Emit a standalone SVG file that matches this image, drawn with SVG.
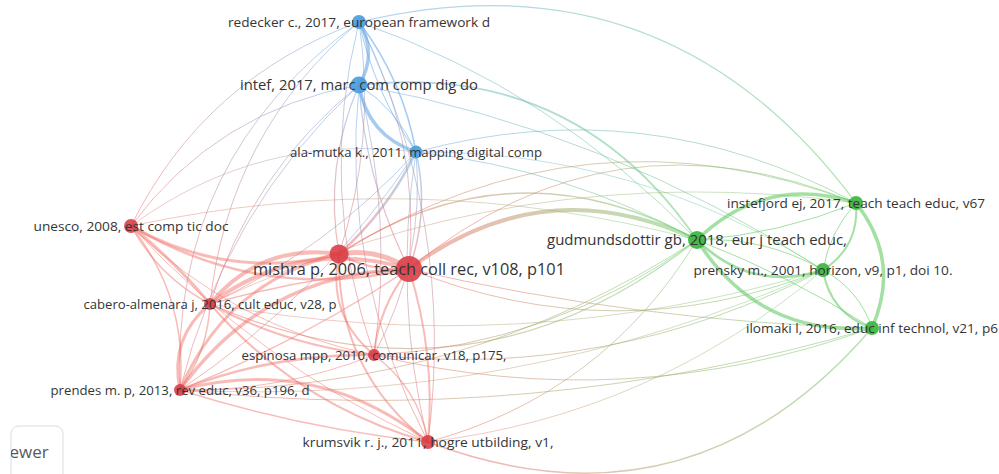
<svg xmlns="http://www.w3.org/2000/svg" width="999" height="474" viewBox="0 0 999 474">
  <style>
    .e { fill: none; stroke-linecap: round; }
    .bb { stroke: #6aa9e6; stroke-opacity: 0.6; }
    .rr { stroke: #ef6a62; stroke-opacity: 0.45; }
    .gg { stroke: #66cc66; stroke-opacity: 0.6; }
    .x  { stroke-opacity: 0.5; }
    .nb { fill: #4a9de0; fill-opacity: 0.92; }
    .nr { fill: #da3a42; fill-opacity: 0.88; }
    .ng { fill: #3cb540; fill-opacity: 0.92; }
    .lbl { font-family: "Open Sans", "DejaVu Sans", sans-serif; font-size: 13.5px; fill: #353535; text-anchor: middle; }
    .big { font-size: 14.7px; }
    .huge { font-size: 16.3px; }
    .btn { fill: #ffffff; stroke: #dcdcdc; stroke-width: 1; }
    .btntxt { font-family: "Open Sans", "DejaVu Sans", sans-serif; font-size: 17px; fill: #5a5a5a; }
  </style>
  <defs>
    <!-- base colour ramps for links between clusters -->
    <linearGradient id="rgBase"><stop offset="0" stop-color="#ef6a62"/><stop offset="1" stop-color="#66cc66"/></linearGradient>
    <linearGradient id="bgBase"><stop offset="0" stop-color="#6aa9e6"/><stop offset="1" stop-color="#66cc66"/></linearGradient>
    <linearGradient id="brBase"><stop offset="0" stop-color="#6aa9e6"/><stop offset="1" stop-color="#ef6a62"/></linearGradient>

    <!-- blue -> green -->
    <linearGradient id="e4" href="#bgBase" gradientUnits="userSpaceOnUse" x1="359" y1="22" x2="856" y2="203"/>
    <linearGradient id="e5" href="#bgBase" gradientUnits="userSpaceOnUse" x1="359" y1="85" x2="697" y2="240"/>
    <linearGradient id="e6" href="#bgBase" gradientUnits="userSpaceOnUse" x1="416" y1="152" x2="856" y2="203"/>
    <linearGradient id="e7" href="#bgBase" gradientUnits="userSpaceOnUse" x1="416" y1="152" x2="697" y2="240"/>
    <linearGradient id="e8" href="#bgBase" gradientUnits="userSpaceOnUse" x1="359" y1="22" x2="697" y2="240"/>
    <linearGradient id="e9" href="#bgBase" gradientUnits="userSpaceOnUse" x1="359" y1="85" x2="823" y2="270"/>
    <linearGradient id="e10" href="#bgBase" gradientUnits="userSpaceOnUse" x1="416" y1="152" x2="823" y2="270"/>

    <!-- blue -> red -->
    <linearGradient id="e12" href="#brBase" gradientUnits="userSpaceOnUse" x1="359" y1="22" x2="131" y2="226"/>
    <linearGradient id="e13" href="#brBase" gradientUnits="userSpaceOnUse" x1="359" y1="85" x2="131" y2="226"/>
    <linearGradient id="e14" href="#brBase" gradientUnits="userSpaceOnUse" x1="359" y1="22" x2="180" y2="390"/>
    <linearGradient id="e15" href="#brBase" gradientUnits="userSpaceOnUse" x1="359" y1="22" x2="210" y2="304"/>
    <linearGradient id="e16" href="#brBase" gradientUnits="userSpaceOnUse" x1="359" y1="85" x2="210" y2="304"/>
    <linearGradient id="e17" href="#brBase" gradientUnits="userSpaceOnUse" x1="359" y1="85" x2="180" y2="390"/>
    <linearGradient id="e18" href="#brBase" gradientUnits="userSpaceOnUse" x1="416" y1="152" x2="210" y2="304"/>
    <linearGradient id="e19" href="#brBase" gradientUnits="userSpaceOnUse" x1="416" y1="152" x2="180" y2="390"/>
    <linearGradient id="e20" href="#brBase" gradientUnits="userSpaceOnUse" x1="416" y1="152" x2="131" y2="226"/>
    <linearGradient id="e21" href="#brBase" gradientUnits="userSpaceOnUse" x1="416" y1="152" x2="339" y2="254"/>
    <linearGradient id="e22" href="#brBase" gradientUnits="userSpaceOnUse" x1="416" y1="152" x2="409" y2="269"/>
    <linearGradient id="e23" href="#brBase" gradientUnits="userSpaceOnUse" x1="359" y1="85" x2="339" y2="254"/>
    <linearGradient id="e24" href="#brBase" gradientUnits="userSpaceOnUse" x1="359" y1="85" x2="409" y2="269"/>
    <linearGradient id="e25" href="#brBase" gradientUnits="userSpaceOnUse" x1="359" y1="22" x2="339" y2="254"/>
    <linearGradient id="e26" href="#brBase" gradientUnits="userSpaceOnUse" x1="359" y1="22" x2="409" y2="269"/>
    <linearGradient id="e27" href="#brBase" gradientUnits="userSpaceOnUse" x1="359" y1="22" x2="374" y2="355"/>
    <linearGradient id="e28" href="#brBase" gradientUnits="userSpaceOnUse" x1="359" y1="85" x2="374" y2="355"/>
    <linearGradient id="e29" href="#brBase" gradientUnits="userSpaceOnUse" x1="416" y1="152" x2="374" y2="355"/>
    <linearGradient id="e30" href="#brBase" gradientUnits="userSpaceOnUse" x1="359" y1="22" x2="428" y2="442"/>
    <linearGradient id="e31" href="#brBase" gradientUnits="userSpaceOnUse" x1="359" y1="85" x2="428" y2="442"/>
    <linearGradient id="e32" href="#brBase" gradientUnits="userSpaceOnUse" x1="416" y1="152" x2="428" y2="442"/>

    <!-- red -> green -->
    <linearGradient id="e56" href="#rgBase" gradientUnits="userSpaceOnUse" x1="409" y1="269" x2="697" y2="240"/>
    <linearGradient id="e57" href="#rgBase" gradientUnits="userSpaceOnUse" x1="339" y1="254" x2="697" y2="240"/>
    <linearGradient id="e58" href="#rgBase" gradientUnits="userSpaceOnUse" x1="409" y1="269" x2="856" y2="203"/>
    <linearGradient id="e59" href="#rgBase" gradientUnits="userSpaceOnUse" x1="339" y1="254" x2="856" y2="203"/>
    <linearGradient id="e60" href="#rgBase" gradientUnits="userSpaceOnUse" x1="210" y1="304" x2="697" y2="240"/>
    <linearGradient id="e61" href="#rgBase" gradientUnits="userSpaceOnUse" x1="409" y1="269" x2="823" y2="270"/>
    <linearGradient id="e62" href="#rgBase" gradientUnits="userSpaceOnUse" x1="428" y1="442" x2="872" y2="328"/>
    <linearGradient id="e63" href="#rgBase" gradientUnits="userSpaceOnUse" x1="180" y1="390" x2="872" y2="328"/>
    <linearGradient id="e64" href="#rgBase" gradientUnits="userSpaceOnUse" x1="428" y1="442" x2="697" y2="240"/>
    <linearGradient id="e65" href="#rgBase" gradientUnits="userSpaceOnUse" x1="374" y1="355" x2="697" y2="240"/>
    <linearGradient id="e66" href="#rgBase" gradientUnits="userSpaceOnUse" x1="374" y1="355" x2="823" y2="270"/>
    <linearGradient id="e67" href="#rgBase" gradientUnits="userSpaceOnUse" x1="374" y1="355" x2="872" y2="328"/>
    <linearGradient id="e68" href="#rgBase" gradientUnits="userSpaceOnUse" x1="180" y1="390" x2="697" y2="240"/>
    <linearGradient id="e69" href="#rgBase" gradientUnits="userSpaceOnUse" x1="180" y1="390" x2="823" y2="270"/>
    <linearGradient id="e70" href="#rgBase" gradientUnits="userSpaceOnUse" x1="210" y1="304" x2="823" y2="270"/>
    <linearGradient id="e71" href="#rgBase" gradientUnits="userSpaceOnUse" x1="409" y1="269" x2="872" y2="328"/>
    <linearGradient id="e72" href="#rgBase" gradientUnits="userSpaceOnUse" x1="131" y1="226" x2="697" y2="240"/>
    <linearGradient id="e73" href="#rgBase" gradientUnits="userSpaceOnUse" x1="210" y1="304" x2="856" y2="203"/>
    <linearGradient id="e74" href="#rgBase" gradientUnits="userSpaceOnUse" x1="428" y1="442" x2="823" y2="270"/>

    <clipPath id="btnClip"><rect x="11" y="426" width="52" height="60" rx="8"/></clipPath>
  </defs>

  <rect width="999" height="474" fill="#ffffff"/>

  <g id="connectors">
    <!-- within the blue cluster -->
    <g class="bb">
      <path class="e" d="M359 22 Q378 53.5 359 85" stroke-width="3.5"/>
      <path class="e" d="M359 85 Q367.4 135.6 416 152" stroke-width="3.5"/>
      <path class="e" d="M359 22 Q403 80 416 152" stroke-width="1.5"/>
      <path class="e" d="M359 22 Q374.5 92.7 416 152" stroke-width="1"/>
      <path class="e" d="M359 85 Q397.5 110 416 152" stroke-width="1"/>
    </g>
    <!-- blue to green -->
    <g class="x">
      <path class="e" d="M359 22 Q667 -51.5 856 203" stroke="url(#e4)" stroke-width="1.2"/>
      <path class="e" d="M359 85 Q574.5 61.1 697 240" stroke="url(#e5)" stroke-width="1.8"/>
      <path class="e" d="M416 152 Q646 89.5 856 203" stroke="url(#e6)" stroke-width="1"/>
      <path class="e" d="M416 152 Q565 168 697 240" stroke="url(#e7)" stroke-width="1"/>
      <path class="e" d="M359 22 Q554 90.4 697 240" stroke="url(#e8)" stroke-width="1"/>
      <path class="e" d="M359 85 Q609.5 131 823 270" stroke="url(#e9)" stroke-width="1"/>
      <path class="e" d="M416 152 Q637 150 823 270" stroke="url(#e10)" stroke-width="0.8"/>
    </g>
    <!-- blue to red -->
    <g class="x">
      <path class="e" d="M359 22 Q204 78.4 131 226" stroke="url(#e12)" stroke-width="1"/>
      <path class="e" d="M359 85 Q216.8 110 131 226" stroke="url(#e13)" stroke-width="1"/>
      <path class="e" d="M359 22 Q170 157.7 180 390" stroke="url(#e14)" stroke-width="1"/>
      <path class="e" d="M359 22 Q228 133 210 304" stroke="url(#e15)" stroke-width="1"/>
      <path class="e" d="M359 85 Q251.6 172 210 304" stroke="url(#e16)" stroke-width="1"/>
      <path class="e" d="M359 85 Q223.7 210.6 180 390" stroke="url(#e17)" stroke-width="1"/>
      <path class="e" d="M416 152 Q328 248.6 210 304" stroke="url(#e18)" stroke-width="1"/>
      <path class="e" d="M416 152 Q322 294.6 180 390" stroke="url(#e19)" stroke-width="1"/>
      <path class="e" d="M416 152 Q258.7 132 131 226" stroke="url(#e20)" stroke-width="0.8"/>
      <path class="e" d="M416 152 Q387.7 210.7 339 254" stroke="url(#e21)" stroke-width="2.5"/>
      <path class="e" d="M416 152 Q430 211.5 409 269" stroke="url(#e22)" stroke-width="1.5"/>
      <path class="e" d="M359 85 Q323.6 166.5 339 254" stroke="url(#e23)" stroke-width="1.2"/>
      <path class="e" d="M359 85 Q365.6 182 409 269" stroke="url(#e24)" stroke-width="1.2"/>
      <path class="e" d="M359 22 Q376.8 140.4 339 254" stroke="url(#e25)" stroke-width="1"/>
      <path class="e" d="M359 22 Q421 138 409 269" stroke="url(#e26)" stroke-width="1"/>
      <path class="e" d="M359 22 Q316.5 190.75 374 355" stroke="url(#e27)" stroke-width="1"/>
      <path class="e" d="M359 85 Q393.5 218.5 374 355" stroke="url(#e28)" stroke-width="1"/>
      <path class="e" d="M416 152 Q425.5 259.8 374 355" stroke="url(#e29)" stroke-width="1"/>
      <path class="e" d="M359 22 Q456.5 221.6 428 442" stroke="url(#e30)" stroke-width="1"/>
      <path class="e" d="M359 85 Q340 274 428 442" stroke="url(#e31)" stroke-width="1"/>
      <path class="e" d="M416 152 Q393 298.2 428 442" stroke="url(#e32)" stroke-width="1"/>
    </g>
    <!-- within the red cluster -->
    <g class="rr">
      <path class="e" d="M339 254 Q377 247.5 409 269" stroke-width="5"/>
      <path class="e" d="M339 254 Q371.75 272 409 269" stroke-width="2"/>
      <path class="e" d="M131 226 Q229.4 281.6 339 254" stroke-width="3"/>
      <path class="e" d="M131 226 Q261.4 303.1 409 269" stroke-width="2.5"/>
      <path class="e" d="M131 226 Q174.4 261 210 304" stroke-width="3"/>
      <path class="e" d="M131 226 Q158.8 276.9 210 304" stroke-width="1.5"/>
      <path class="e" d="M131 226 Q188.3 298.2 180 390" stroke-width="1.5"/>
      <path class="e" d="M131 226 Q233 327 374 355" stroke-width="1"/>
      <path class="e" d="M131 226 Q258 363.7 428 442" stroke-width="1"/>
      <path class="e" d="M210 304 Q260.5 242.9 339 254" stroke-width="4"/>
      <path class="e" d="M210 304 Q300.75 236.75 409 269" stroke-width="4"/>
      <path class="e" d="M210 304 Q307.75 276.5 409 269" stroke-width="1.5"/>
      <path class="e" d="M180 390 Q225.5 282.25 339 254" stroke-width="3"/>
      <path class="e" d="M180 390 Q264.25 272.25 409 269" stroke-width="3.5"/>
      <path class="e" d="M180 390 Q300.5 341 409 269" stroke-width="1.5"/>
      <path class="e" d="M210 304 Q169 338 180 390" stroke-width="3"/>
      <path class="e" d="M210 304 Q207.9 351.5 180 390" stroke-width="1.5"/>
      <path class="e" d="M180 390 Q273.5 353.1 374 355" stroke-width="2.5"/>
      <path class="e" d="M180 390 Q280.5 391.9 374 355" stroke-width="1"/>
      <path class="e" d="M180 390 Q317 354 428 442" stroke-width="3"/>
      <path class="e" d="M180 390 Q301.4 428.4 428 442" stroke-width="1.5"/>
      <path class="e" d="M210 304 Q298.3 405.7 428 442" stroke-width="2"/>
      <path class="e" d="M210 304 Q286.9 345.9 374 355" stroke-width="2"/>
      <path class="e" d="M339 254 Q326.2 315 374 355" stroke-width="2"/>
      <path class="e" d="M409 269 Q378.6 306.75 374 355" stroke-width="2"/>
      <path class="e" d="M339 254 Q336.5 370.25 428 442" stroke-width="2"/>
      <path class="e" d="M409 269 Q435.8 353.6 428 442" stroke-width="2"/>
      <path class="e" d="M374 355 Q418.4 387.7 428 442" stroke-width="1.5"/>
    </g>
    <!-- red to green -->
    <g class="x">
      <path class="e" d="M409 269 Q544.3 168.1 697 240" stroke="url(#e56)" stroke-width="4"/>
      <path class="e" d="M339 254 Q513.8 139.6 697 240" stroke="url(#e57)" stroke-width="1.5"/>
      <path class="e" d="M409 269 Q612.5 102 856 203" stroke="url(#e58)" stroke-width="1"/>
      <path class="e" d="M339 254 Q584.75 99.5 856 203" stroke="url(#e59)" stroke-width="1"/>
      <path class="e" d="M210 304 Q472.7 418.1 697 240" stroke="url(#e60)" stroke-width="1.2"/>
      <path class="e" d="M409 269 Q615.8 352.3 823 270" stroke="url(#e61)" stroke-width="1"/>
      <path class="e" d="M428 442 Q689.9 540.4 872 328" stroke="url(#e62)" stroke-width="1.5"/>
      <path class="e" d="M180 390 Q532 428 872 328" stroke="url(#e63)" stroke-width="1"/>
      <path class="e" d="M428 442 Q602.9 394.8 697 240" stroke="url(#e64)" stroke-width="1"/>
      <path class="e" d="M374 355 Q552.75 345.95 697 240" stroke="url(#e65)" stroke-width="1"/>
      <path class="e" d="M374 355 Q611.25 379.85 823 270" stroke="url(#e66)" stroke-width="1"/>
      <path class="e" d="M374 355 Q627 416.2 872 328" stroke="url(#e67)" stroke-width="1"/>
      <path class="e" d="M180 390 Q461 392.55 697 240" stroke="url(#e68)" stroke-width="1"/>
      <path class="e" d="M180 390 Q515.9 407.2 823 270" stroke="url(#e69)" stroke-width="0.8"/>
      <path class="e" d="M210 304 Q520.6 360.6 823 270" stroke="url(#e70)" stroke-width="0.8"/>
      <path class="e" d="M409 269 Q637.5 321.65 872 328" stroke="url(#e71)" stroke-width="1"/>
      <path class="e" d="M131 226 Q415.7 165 697 240" stroke="url(#e72)" stroke-width="0.8"/>
      <path class="e" d="M210 304 Q517.85 156.6 856 203" stroke="url(#e73)" stroke-width="0.8"/>
      <path class="e" d="M428 442 Q651.3 415.25 823 270" stroke="url(#e74)" stroke-width="0.8"/>
    </g>
    <!-- within the green cluster -->
    <g class="gg">
      <path class="e" d="M697 240 Q765.4 173.8 856 203" stroke-width="3.5"/>
      <path class="e" d="M697 240 Q779.5 234.2 856 203" stroke-width="1"/>
      <path class="e" d="M697 240 Q758.1 336.5 872 328" stroke-width="3.5"/>
      <path class="e" d="M697 240 Q788.9 275.25 872 328" stroke-width="1"/>
      <path class="e" d="M856 203 Q901.5 260.7 872 328" stroke-width="3.5"/>
      <path class="e" d="M697 240 Q751 292.8 823 270" stroke-width="2.5"/>
      <path class="e" d="M697 240 Q764.5 236.1 823 270" stroke-width="1"/>
      <path class="e" d="M823 270 Q859.5 246.5 856 203" stroke-width="2"/>
      <path class="e" d="M823 270 Q829.5 231.5 856 203" stroke-width="1"/>
      <path class="e" d="M823 270 Q830.1 313.7 872 328" stroke-width="2"/>
      <path class="e" d="M823 270 Q859 289.2 872 328" stroke-width="1"/>
    </g>
  </g>

  <g id="nodes">
    <g id="node-redecker">
      <circle class="nb" cx="359" cy="22" r="7"/>
      <text class="lbl" x="359" y="22" dy="0.35em" textLength="262" lengthAdjust="spacingAndGlyphs">redecker c., 2017, european framework d</text>
    </g>
    <g id="node-intef">
      <circle class="nb" cx="359" cy="85" r="8.5"/>
      <text class="lbl big" x="359" y="85" dy="0.35em" textLength="238" lengthAdjust="spacingAndGlyphs">intef, 2017, marc com comp dig do</text>
    </g>
    <g id="node-ala-mutka">
      <circle class="nb" cx="416" cy="152" r="6.5"/>
      <text class="lbl" x="416" y="152" dy="0.35em" textLength="252" lengthAdjust="spacingAndGlyphs">ala-mutka k., 2011, mapping digital comp</text>
    </g>
    <g id="node-unesco">
      <circle class="nr" cx="131" cy="226" r="7"/>
      <text class="lbl" x="131" y="226" dy="0.35em" textLength="195" lengthAdjust="spacingAndGlyphs">unesco, 2008, est comp tic doc</text>
    </g>
    <g id="node-mishra-b">
      <circle class="nr" cx="339" cy="254" r="9.5"/>
    </g>
    <g id="node-cabero">
      <circle class="nr" cx="210" cy="304" r="6"/>
      <text class="lbl" x="210" y="304" dy="0.35em" textLength="253" lengthAdjust="spacingAndGlyphs">cabero-almenara j, 2016, cult educ, v28, p</text>
    </g>
    <g id="node-espinosa">
      <circle class="nr" cx="374" cy="355" r="6"/>
      <text class="lbl" x="374" y="355" dy="0.35em" textLength="265" lengthAdjust="spacingAndGlyphs">espinosa mpp, 2010, comunicar, v18, p175,</text>
    </g>
    <g id="node-prendes">
      <circle class="nr" cx="180" cy="390" r="6"/>
      <text class="lbl" x="180" y="390" dy="0.35em" textLength="259" lengthAdjust="spacingAndGlyphs">prendes m. p, 2013, rev educ, v36, p196, d</text>
    </g>
    <g id="node-krumsvik">
      <circle class="nr" cx="428" cy="442" r="7"/>
      <text class="lbl" x="428" y="442" dy="0.35em" textLength="251" lengthAdjust="spacingAndGlyphs">krumsvik r. j., 2011, hogre utbilding, v1,</text>
    </g>
    <g id="node-mishra">
      <circle class="nr" cx="409" cy="269" r="13"/>
      <text class="lbl huge" x="409" y="269" dy="0.35em" textLength="312" lengthAdjust="spacingAndGlyphs">mishra p, 2006, teach coll rec, v108, p101</text>
    </g>
    <g id="node-gudmundsdottir">
      <circle class="ng" cx="697" cy="240" r="9"/>
      <text class="lbl big" x="697" y="240" dy="0.35em" textLength="300" lengthAdjust="spacingAndGlyphs">gudmundsdottir gb, 2018, eur j teach educ,</text>
    </g>
    <g id="node-instefjord">
      <circle class="ng" cx="856" cy="203" r="7"/>
      <text class="lbl" x="856" y="203" dy="0.35em" textLength="258" lengthAdjust="spacingAndGlyphs">instefjord ej, 2017, teach teach educ, v67</text>
    </g>
    <g id="node-prensky">
      <circle class="ng" cx="823" cy="270" r="7"/>
      <text class="lbl" x="823" y="270" dy="0.35em" textLength="259" lengthAdjust="spacingAndGlyphs">prensky m., 2001, horizon, v9, p1, doi 10.</text>
    </g>
    <g id="node-ilomaki">
      <circle class="ng" cx="872" cy="328" r="7"/>
      <text class="lbl" x="872" y="328" dy="0.35em" textLength="252" lengthAdjust="spacingAndGlyphs">ilomaki l, 2016, educ inf technol, v21, p6</text>
    </g>
  </g>

  <!-- partly hidden viewer button, lower left -->
  <g id="viewer-button">
    <rect class="btn" x="11" y="426" width="52" height="60" rx="8"/>
    <g clip-path="url(#btnClip)">
      <text class="btntxt" x="9.5" y="458">ewer</text>
    </g>
  </g>
</svg>
